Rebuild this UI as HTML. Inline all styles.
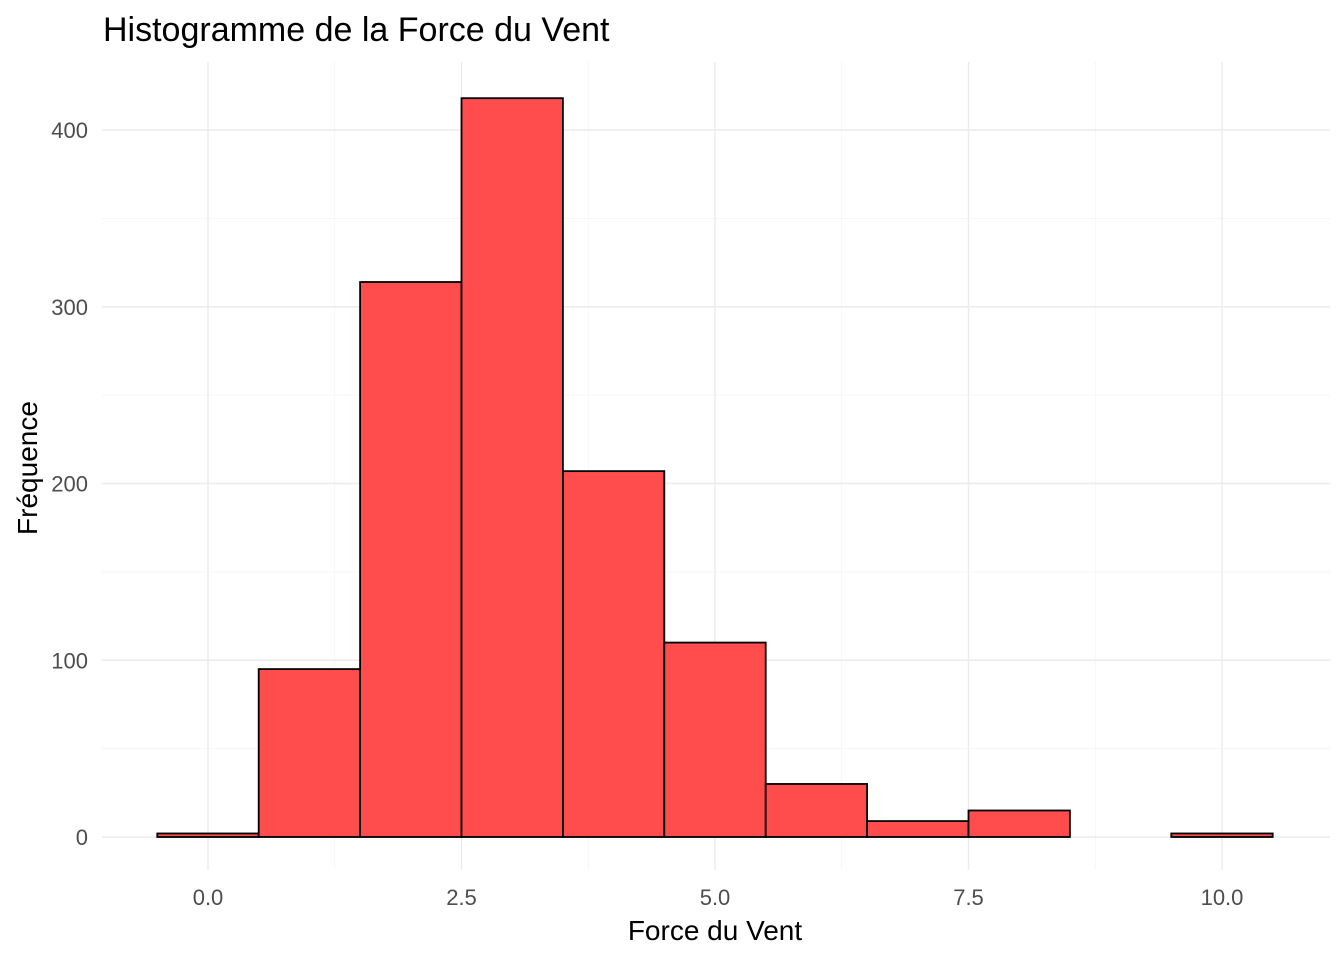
<!DOCTYPE html>
<html><head><meta charset="utf-8"><style>
body{margin:0;background:#fff;font-family:"Liberation Sans",Arial,sans-serif}
</style></head><body>
<svg width="1344" height="960" xmlns="http://www.w3.org/2000/svg">
<rect width="1344" height="960" fill="#fff"/>
<g id="grid"></g>
<g id="bars"></g>
<g id="axes"></g>
<text x="103" y="41" font-size="34" fill="#000">Histogramme de la Force du Vent</text>
<text x="715" y="940" font-size="28" text-anchor="middle" fill="#000">Force du Vent</text>
<text x="0" y="0" font-size="28" text-anchor="middle" fill="#000" transform="translate(37,468) rotate(-90)">Fréquence</text>
</svg>
<script>
const binCenters=[0,1,2,3,4,5,6,7,8,9,10];
const counts=[2,95,314,418,207,110,30,9,15,0,2];
const xTicks=[0,2.5,5,7.5,10];
const xTickLabels=["0.0","2.5","5.0","7.5","10.0"];
const yTicks=[0,100,200,300,400];
const binWidth=1;
const NS="http://www.w3.org/2000/svg";
const X=v=>208+v*101.4;
const Y=v=>837-v*1.7675;
const L=102,R=1330,T=62,B=870;
function mk(tag,attrs,parent){const e=document.createElementNS(NS,tag);for(const k in attrs)e.setAttribute(k,attrs[k]);parent.appendChild(e);return e;}
const grid=document.getElementById('grid'),bars=document.getElementById('bars'),axes=document.getElementById('axes');
for(let i=0;i<xTicks.length;i++){
  const x=X(xTicks[i]);
  const g=mk('line',{x1:x,x2:x,y1:T,y2:B,stroke:'#ebebeb','stroke-width':1.4},grid);
  
  
  if(i<xTicks.length-1){const xm=X((xTicks[i]+xTicks[i+1])/2);
    const m=mk('line',{x1:xm,x2:xm,y1:T,y2:B,stroke:'#f3f3f3','stroke-width':0.8},grid);
    
    }
  const t=mk('text',{x:x,y:905,'font-size':22,'text-anchor':'middle',fill:'#4d4d4d'},axes);
  t.textContent=xTickLabels[i];
  
  
}
for(let i=0;i<yTicks.length;i++){
  const y=Y(yTicks[i]);
  const g=mk('line',{x1:L,x2:R,y1:y,y2:y,stroke:'#ebebeb','stroke-width':1.4},grid);
  
  
  const ym=Y(yTicks[i]+50);
  if(ym>T){const m=mk('line',{x1:L,x2:R,y1:ym,y2:ym,stroke:'#f3f3f3','stroke-width':0.8},grid);
    
    }
  const t=mk('text',{x:88,y:y+8,'font-size':22,'text-anchor':'end',fill:'#4d4d4d'},axes);
  t.textContent=String(yTicks[i]);
  
  
}
for(let i=0;i<binCenters.length;i++){
  const x0=X(binCenters[i]-binWidth/2),x1=X(binCenters[i]+binWidth/2);
  const y0=Y(counts[i]),y1=Y(0);
  const r=mk('rect',{x:x0,y:y0,width:x1-x0,height:Math.max(y1-y0,0),fill:'#ff4d4d',stroke:'#000','stroke-width':1.8},bars);
  
  
}
</script>
</body></html>
